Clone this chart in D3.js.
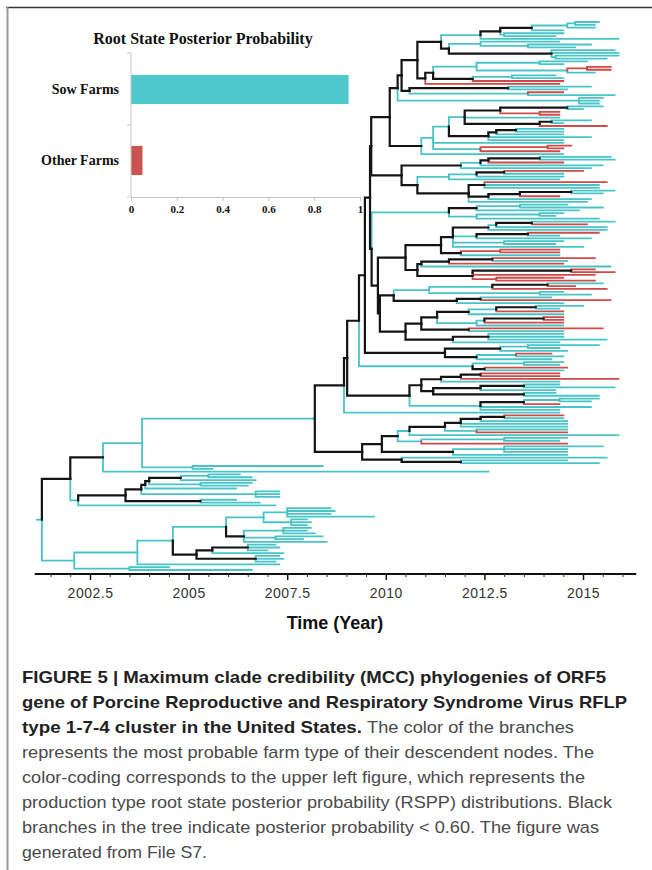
<!DOCTYPE html>
<html>
<head>
<meta charset="utf-8">
<script src="https://cdn.jsdelivr.net/npm/d3@7"></script>
<style>
  body { margin: 0; background: #fff; }
  svg { display: block; }
</style>
</head>
<body>
<div id="chart"></div>
<script>
// ---- inset bar chart data
const barCategories = ["Sow Farms", "Other Farms"];
const barValues = [0.95, 0.05];
const barTicks = [0, 0.2, 0.4, 0.6, 0.8, 1];

// ---- time axis
const yearTicks = [2002.5, 2005, 2007.5, 2010, 2012.5, 2015];
const axisYears = [2001.1, 2016.35];
const rootStubYear = 2001.15;

// ---- tree clades, newick-like: "(children)time+state"
// time = year - 2000, state: c = sow farm, r = other farm, k = black (posterior < 0.6)
const A5 = "(((((15.4c,15.3c)14.8c,15.3c)14.6c,14.5c)13.7k,(14.5c,14.3c)13.0c)12.9k,15.9c)12.4c";
const B5 = "((14.4c,(15.2c,14.8c)13.6c)12.4c,(15.8c,15.9c,(15.9c,15.6c)14.3c)14.2k)11.6k";
const X1a = "((15.1c,14.5c)13.9c,((15.7r,15.7r)15.1r,15.3c)14.6c)12.3c";
const X1b = "((14.3c,14.5c)13.2c,14.5r)12.2k";
const P7 = "((15.2c,14.6c)13.1k,(14.5r,15.8c)13.6c)10.6k";
const P2 = `((((${A5},${B5})11.4k,((${X1a},${X1b})11.2k,14.4r)11.0k)10.8k,${P7})10.4k,(15.5c,15.4c,15.4c)14.9c)10.3k`;

const Q1c = "(((15.5c,15.0c)14.6k,(14.4r,14.4r)13.9r)12.9k,14.4c,((15.2c,14.5c)14.2k,15.6r)13.9k)12.0c";
const Q1d = "(((14.5c,14.5c)13.3k,14.5c)12.8k,15.2c,14.5c)12.6k";
const Q1 = `(((${Q1c},${Q1d})11.6c,14.5c,((14.7r,14.5r)14.1r,14.4r)12.4c)11.2c,14.5c)10.9k`;
const topClade = `(${P2},${Q1})10.1k`;

const N468 = "((((15.7c,15.8c)13.9k,14.5r)12.6k,15.5c)12.4c,15.2c)11.9k";
const N417 = "((((15.0r,14.5c)13.0k,14.5c)12.3c,14.4c)11.6c,((15.6r,15.4c,15.4c)12.5k,(((15.8c,15.5c)14.7k,14.4r)13.4k,15.2c)12.6k,15.1c)12.1k)10.8k";
const N400 = `(${N468},${N417})10.4k`;

const Q = "(((14.6c,15.5c)13.4c,14.9c)12.3k,((14.5c,14.3c)13.9c,15.4c)12.3c)11.6c";

const R1 = "((((15.8c,15.1r)13.7k,15.6c)12.8c,15.6c)12.6k,((15.4r,14.4c)13.6k,15.2c)12.3c,(14.5c,14.3c)13.0c,15.0c)11.7k";
const R2 = "((14.4r,14.4r)12.9r,14.4c)11.9k";
const Rlow = "((((15.3r,14.6c)12.7k,14.5r)11.6k,15.7c)10.9k,(((15.3r,15.8r)14.7k,15.3r)12.2r,(14.5r,15.3r)12.8r)12.2k)10.8k";
const R = `((${R1},${R2})11.4k,${Rlow})10.5k`;

const N395 = "((((15.5c,14.8r)14.1k,15.6r)12.7c,(14.5c,15.2c)13.9c)11.1c,((14.2c,15.7r)12.4k,14.5c)11.8k)10.2k";
const N406 = "((((((15.0c,14.4c)13.8k,14.5r)12.8c,14.5c)12.1k,(((14.5r,14.5r)14.0k,14.5r)12.5c,14.5c)12.3c)11.3k,(15.5r,14.5c)12.1k)10.9k,((14.5c,14.5c,15.6c)12.6k,14.4c)11.7k)10.5k";
const N446 = "(((15.4c,14.4c)13.6c,14.6c)12.9k,((14.2r,14.5c)13.3c,14.2c)12.3k)11.5k";
const N477 = "((14.5c,14.4c)13.5c,(14.6r,14.5c)12.5k)12.2c";
const N429 = "((((14.4r,14.4r)12.4k,15.9r)11.9k,14.4c)11.4k,(((14.4c,15.8c)13.5k,14.3c)12.4k,(14.3c,15.4c)13.5k)11.2k)10.9k";
const N480 = "(((15.4c,15.2c)14.4c,14.4r)13.5k,15.2c,14.4c)12.4c";
const Lc = "((((((((14.5r,14.5c)13.0k,14.6c)12.4k,14.6c,14.6c)11.9k,(14.6c,14.6r)12.3c)11.5k,15.9c)10.6c,((14.6c,14.4c)13.0c,14.6r)10.9c)10.3k,((15.5c,14.6c,14.6c)13.0c,14.6c)11.7k)9.9k,(15.6c,(14.6c,15.4c)11.9k)10.4k)9.4k";

const H = "(((((6.3c,6.6c)5.5c,6.7c)4.8k,(6.6c,6.5c)5.3c)4.0k,6.2c)3.9k,(7.3c,7.3c,7.3c)6.7c)3.8k";
const G = `(${H},(6.2c,6.8c)5.3k)3.4k`;
const Bottom = "((((((8.6c,8.7c,8.6c,9.7c)7.5c,(8.0c,8.1c,8.0c)7.6c)6.9c,((8.1c,8.0c,8.2c)7.4c,(8.4c,7.9c)7.2c,8.5c)6.4k)5.95c,(((7.2c,7.3c,7.0c)6.5k,7.4c)5.6k,(7.3c,7.4c,7.2c)6.7k)5.2k)4.6c,7.3c)3.7c,(4.5c,6.6c)3.5c)2.1c";

// backbone
const S5 = `((${topClade},${N400})9.63k,(${Q},(${R},(${N395},${N406})9.85k)9.8k)9.64k)9.6k`;
const S1 = `((((${S5},${N446})9.47k,${N477})9.32k,(${N429},${N480})10.6k)9.02k,14.4c)8.94k`;
const E = `(${S1},${Lc})8.2c`;
const basal = `(((${E},(8.4c,5.6c)5.1c)3.82c,12.6c)2.83k,(${G},7.2c)2.2c)2.0k`;
const treeString = `(${basal},${Bottom})1.28c`;

// ---- caption
const captionLines = [
  ["FIGURE 5 | Maximum clade credibility (MCC) phylogenies of ORF5", ""],
  ["gene of Porcine Reproductive and Respiratory Syndrome Virus RFLP", ""],
  ["type 1-7-4 cluster in the United States.", "The color of the branches"],
  ["", "represents the most probable farm type of their descendent nodes. The"],
  ["", "color-coding corresponds to the upper left figure, which represents the"],
  ["", "production type root state posterior probability (RSPP) distributions. Black"],
  ["", "branches in the tree indicate posterior probability < 0.60. The figure was"],
  ["", "generated from File S7."]
];
const captionFit = [[584, 0], [605, 0], [340, 207], [0, 572], [0, 563], [0, 590], [0, 577], [0, 185]];

// ---------------------------------------------------------------
const width = 652, height = 870;
const stateColor = { c: "#48c4c7", r: "#cf4a4a", k: "#141414" };

const svg = d3.select("#chart")
  .append("svg")
  .attr("width", width)
  .attr("height", height)
  .attr("viewBox", [0, 0, width, height]);

// frame
svg.append("line").attr("x1", 6).attr("x2", width).attr("y1", 7.5).attr("y2", 7.5)
  .attr("stroke", "#333").attr("stroke-width", 1.5);
svg.append("line").attr("x1", 7.5).attr("x2", 7.5).attr("y1", 7).attr("y2", height)
  .attr("stroke", "#9a9a9a").attr("stroke-width", 2);

// parse the newick-like string
function parseTree(s) {
  let i = 0;
  function node() {
    const n = {};
    if (s[i] === "(") {
      n.children = [];
      i++;
      n.children.push(node());
      while (s[i] === ",") { i++; n.children.push(node()); }
      i++; // ")"
    }
    const m = /^([\d.]+)([ckr])/.exec(s.slice(i));
    n.year = 2000 + +m[1];
    n.state = m[2];
    i += m[0].length;
    return n;
  }
  return node();
}

const root = d3.hierarchy(parseTree(treeString));
const leaves = root.leaves();

const tx = d3.scaleLinear().domain([2002.5, 2015]).range([90, 583]);
const ty = d3.scalePoint().domain(leaves.map((d, i) => i)).range([22, 570]);

leaves.forEach((d, i) => d.y = ty(i));
root.eachAfter(d => {
  d.x = tx(d.data.year);
  if (d.children) d.y = (d.children[0].y + d.children[d.children.length - 1].y) / 2;
});

const links = root.links();
const order = { c: 0, r: 1, k: 2 };
links.sort((a, b) => order[a.target.data.state] - order[b.target.data.state]);

const treeG = svg.append("g").attr("fill", "none").attr("stroke-linecap", "square");

treeG.append("path")
  .attr("d", `M${tx(rootStubYear)},${root.y}H${root.x}`)
  .attr("stroke", stateColor[root.data.state])
  .attr("stroke-width", 1.8);

treeG.selectAll("path.branch")
  .data(links)
  .join("path")
  .attr("class", "branch")
  .attr("d", d => `M${d.source.x},${d.source.y}V${d.target.y}H${d.target.x}`)
  .attr("stroke", d => stateColor[d.target.data.state])
  .attr("stroke-width", d => d.target.data.state === "k" ? 2.2 : 1.8);

// time axis
const axisY = 574;
svg.append("line")
  .attr("x1", tx(axisYears[0])).attr("x2", tx(axisYears[1]))
  .attr("y1", axisY).attr("y2", axisY)
  .attr("stroke", "#111").attr("stroke-width", 2);

const minorTicks = d3.range(2001.5, 2016.01, 0.5).filter(v => !yearTicks.includes(v));
svg.append("g")
  .attr("transform", `translate(0,${axisY})`)
  .call(d3.axisBottom(tx).tickValues(minorTicks).tickSize(3).tickFormat(""))
  .call(g => g.select(".domain").remove())
  .call(g => g.selectAll("line").attr("stroke", "#333"));

svg.append("g")
  .attr("transform", `translate(0,${axisY})`)
  .call(d3.axisBottom(tx).tickValues(yearTicks).tickSize(6).tickPadding(8).tickFormat(d3.format("~g")))
  .call(g => g.select(".domain").remove())
  .call(g => g.selectAll("line").attr("stroke", "#111").attr("stroke-width", 1.5))
  .call(g => g.selectAll("text")
    .attr("font-family", "'Liberation Sans', Arial, sans-serif")
    .attr("font-size", 14)
    .attr("letter-spacing", 0.5)
    .attr("fill", "#333"));

svg.append("text")
  .attr("x", 335).attr("y", 629)
  .attr("text-anchor", "middle")
  .attr("font-family", "'Liberation Sans', Arial, sans-serif")
  .attr("font-weight", "bold")
  .attr("font-size", 18)
  .attr("fill", "#111")
  .text("Time (Year)");

// inset bar chart
const bx = d3.scaleLinear().domain([0, 1]).range([131, 360]);
const by = d3.scaleBand().domain(barCategories).range([53, 197]).paddingInner(0.59).paddingOuter(0.31);
const barColor = d3.scaleOrdinal().domain(barCategories).range(["#4fc8cb", "#cc5251"]);
const serif = "'Liberation Serif', 'Times New Roman', serif";

const inset = svg.append("g");

inset.append("text")
  .attr("x", 203).attr("y", 44)
  .attr("text-anchor", "middle")
  .attr("font-family", serif).attr("font-weight", "bold").attr("font-size", 16)
  .attr("fill", "#111")
  .text("Root State Posterior Probability");

inset.selectAll("rect")
  .data(barCategories)
  .join("rect")
  .attr("x", bx(0))
  .attr("y", d => by(d))
  .attr("width", (d, i) => bx(barValues[i]) - bx(0))
  .attr("height", by.bandwidth())
  .attr("fill", d => barColor(d));

inset.selectAll("text.cat")
  .data(barCategories)
  .join("text")
  .attr("class", "cat")
  .attr("x", 119)
  .attr("y", d => by(d) + by.bandwidth() / 2)
  .attr("dy", "0.35em")
  .attr("text-anchor", "end")
  .attr("font-family", serif).attr("font-weight", "bold").attr("font-size", 14)
  .attr("fill", "#111")
  .text(d => d);

const yTickPos = [by.range()[0],
  (by(barCategories[0]) + by.bandwidth() + by(barCategories[1])) / 2,
  by.range()[1]];
inset.append("line")
  .attr("x1", bx(0)).attr("x2", bx(0))
  .attr("y1", by.range()[0]).attr("y2", by.range()[1])
  .attr("stroke", "#c4c4c4");
inset.selectAll("line.ytick")
  .data(yTickPos)
  .join("line")
  .attr("class", "ytick")
  .attr("x1", bx(0) - 4).attr("x2", bx(0))
  .attr("y1", d => d).attr("y2", d => d)
  .attr("stroke", "#c4c4c4");

inset.append("g")
  .attr("transform", `translate(0,${by.range()[1]})`)
  .call(d3.axisBottom(bx).tickValues(barTicks).tickSize(4).tickPadding(4).tickFormat(d3.format("~g")))
  .call(g => g.select(".domain").attr("stroke", "#c4c4c4"))
  .call(g => g.selectAll("line").attr("stroke", "#c4c4c4"))
  .call(g => g.selectAll("text")
    .attr("font-family", serif).attr("font-weight", "bold").attr("font-size", 11)
    .attr("fill", "#111"));

// caption
const sans = "'Liberation Sans', Arial, sans-serif";
const cap = svg.append("g").attr("font-family", sans).attr("font-size", 17);
captionLines.forEach(([boldText, regText], i) => {
  const y = 683 + i * 25;
  const [bw, rw] = captionFit[i];
  if (boldText) {
    cap.append("text")
      .attr("x", 22).attr("y", y)
      .attr("font-weight", "bold").attr("fill", "#222")
      .attr("textLength", bw).attr("lengthAdjust", "spacingAndGlyphs")
      .text(boldText);
  }
  if (regText) {
    cap.append("text")
      .attr("x", boldText ? 22 + bw + 5 : 22).attr("y", y)
      .attr("fill", "#4a4a4a")
      .attr("textLength", rw).attr("lengthAdjust", "spacingAndGlyphs")
      .text(regText);
  }
});
</script>
</body>
</html>
